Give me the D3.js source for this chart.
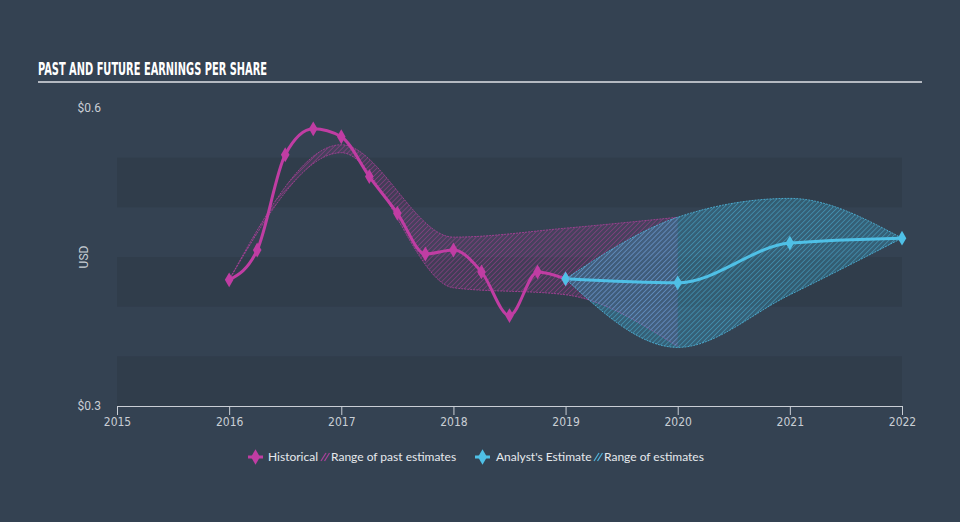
<!DOCTYPE html>
<html>
<head>
<meta charset="utf-8">
<script src="https://cdn.jsdelivr.net/npm/d3@7/dist/d3.min.js"></script>
<style>
  html, body { margin: 0; padding: 0; background: #344252; }
  svg { display: block; }
</style>
</head>
<body>
<svg id="chart" width="960" height="522"></svg>
<script>
// ---------------- DATA ----------------
const histDates  = [2016, 2016.25, 2016.5, 2016.75, 2017, 2017.25, 2017.5, 2017.75, 2018, 2018.25, 2018.5, 2018.75, 2019];
const histValues = [0.427, 0.457, 0.553, 0.579, 0.571, 0.531, 0.494, 0.453, 0.457, 0.435, 0.391, 0.435, 0.428];

const pastRangeYears = [2016, 2017, 2018, 2019, 2020];
const pastRangeHigh  = [0.427, 0.563, 0.470, 0.479, 0.490];
const pastRangeLow   = [0.427, 0.555, 0.419, 0.412, 0.360];

const estYears  = [2019, 2020, 2021, 2022];
const estValues = [0.428, 0.424, 0.464, 0.469];
const estHigh   = [0.428, 0.490, 0.509, 0.469];
const estLow    = [0.428, 0.359, 0.412, 0.469];

const xTickYears  = [2015, 2016, 2017, 2018, 2019, 2020, 2021, 2022];
const yTickValues = [0.3, 0.6];
const bandRanges  = [[0.3, 0.35], [0.4, 0.45], [0.5, 0.55]];

const titleText = "PAST AND FUTURE EARNINGS PER SHARE";
const legendItems = [
  {label: "Historical", kind: "line", color: "#c03da3"},
  {label: "Range of past estimates", kind: "hatch", color: "#a8409a"},
  {label: "Analyst's Estimate", kind: "line", color: "#4fc0e6"},
  {label: "Range of estimates", kind: "hatch", color: "#4fb0d8"}
];

// ---------------- SETUP ----------------
const svg = d3.select("#chart");
const W = 960, H = 522;
const C = {
  bg: "#344252", band: "#303d4b", text: "#c9ced5",
  hist: "#c03da3", est: "#4fc0e6"
};

const x = d3.scaleLinear().domain([2015, 2022]).range([117, 902]);
const y = d3.scaleLinear().domain([0.3, 0.6]).range([406, 108]);

svg.append("rect").attr("width", W).attr("height", H).attr("fill", C.bg);

const defs = svg.append("defs");
function hatch(id, bgColor, bgOpacity, lineColor, lineOpacity) {
  const p = defs.append("pattern").attr("id", id)
    .attr("patternUnits", "userSpaceOnUse").attr("width", 3.5).attr("height", 3.5)
    .attr("patternTransform", "rotate(45)");
  p.append("rect").attr("width", 3.5).attr("height", 3.5).attr("fill", bgColor).attr("fill-opacity", bgOpacity);
  p.append("line").attr("x1", 0).attr("y1", 0).attr("x2", 0).attr("y2", 3.5)
    .attr("stroke", lineColor).attr("stroke-width", 1.4).attr("stroke-opacity", lineOpacity);
}
hatch("hatchPast", "#8a3a86", 0.2, "#b8409f", 0.6);
hatch("hatchEst", "#3aa6cf", 0.30, "#4fbde4", 0.6);

// Bands
svg.append("g").selectAll("rect").data(bandRanges).join("rect")
  .attr("x", x(2015)).attr("width", x(2022) - x(2015))
  .attr("y", d => y(d[1])).attr("height", d => y(d[0]) - y(d[1]))
  .attr("fill", C.band);

// Title
svg.append("text").attr("x", 38).attr("y", 75)
  .attr("font-family", "'DejaVu Sans Condensed', 'DejaVu Sans', sans-serif")
  .attr("font-weight", "bold").attr("font-size", 17)
  .attr("textLength", 229).attr("lengthAdjust", "spacingAndGlyphs")
  .attr("fill", "#ffffff").text(titleText);
svg.append("rect").attr("x", 38).attr("y", 81).attr("width", 884).attr("height", 2).attr("fill", "#b4b9c1");

// Y labels
svg.append("g").selectAll("text").data(yTickValues).join("text")
  .attr("x", 101).attr("y", d => y(d)).attr("dy", "0.35em")
  .attr("text-anchor", "end").attr("font-family", "Roboto, sans-serif").attr("font-size", 12)
  .attr("fill", C.text).text(d => "$" + d.toFixed(1));
svg.append("text").attr("transform", `translate(88,${(y(0.3)+y(0.6))/2}) rotate(-90)`)
  .attr("text-anchor", "middle").attr("font-family", "Roboto, sans-serif").attr("font-size", 12)
  .attr("fill", C.text).text("USD");

// Areas
const areaGen = d3.area().curve(d3.curveMonotoneX)
  .x(d => x(d.t)).y0(d => y(d.lo)).y1(d => y(d.hi));
const lineHi = d3.line().curve(d3.curveMonotoneX).x(d => x(d.t)).y(d => y(d.hi));
const lineLo = d3.line().curve(d3.curveMonotoneX).x(d => x(d.t)).y(d => y(d.lo));

const pastData = pastRangeYears.map((t, i) => ({t, hi: pastRangeHigh[i], lo: pastRangeLow[i]}));
const estData  = estYears.map((t, i) => ({t, hi: estHigh[i], lo: estLow[i]}));

svg.append("path").datum(pastData).attr("d", areaGen).attr("fill", "url(#hatchPast)");
[lineHi, lineLo].forEach(g => svg.append("path").datum(pastData).attr("d", g)
  .attr("fill", "none").attr("stroke", "#b0409c").attr("stroke-width", 1).attr("stroke-dasharray", "2,1").attr("stroke-opacity", 0.8));

svg.append("path").datum(estData).attr("d", areaGen).attr("fill", "url(#hatchEst)");
[lineHi, lineLo].forEach(g => svg.append("path").datum(estData).attr("d", g)
  .attr("fill", "none").attr("stroke", "#4fbde4").attr("stroke-width", 1).attr("stroke-dasharray", "2,1").attr("stroke-opacity", 0.8));

// X axis
const xAxis = d3.axisBottom(x).tickValues(xTickYears).tickFormat(d3.format("d")).tickSize(9).tickPadding(2);
const gx = svg.append("g").attr("transform", `translate(0,${y(0.3)})`).call(xAxis);
gx.select(".domain").attr("stroke", "#c9ced5");
gx.selectAll(".tick line").attr("stroke", "#c9ced5");
gx.selectAll(".tick text").attr("fill", C.text).attr("font-family", "'DejaVu Sans Condensed', Roboto, sans-serif").attr("font-size", 12);

// Lines
const lineGen = d3.line().curve(d3.curveMonotoneX).x(d => x(d[0])).y(d => y(d[1]));
const histPts = histDates.map((t, i) => [t, histValues[i]]);
const estPts  = estYears.map((t, i) => [t, estValues[i]]);

svg.append("path").datum(histPts).attr("d", lineGen).attr("fill", "none")
  .attr("stroke", C.hist).attr("stroke-width", 3);
svg.append("path").datum(estPts).attr("d", lineGen).attr("fill", "none")
  .attr("stroke", C.est).attr("stroke-width", 3);

const diamond = d3.symbol().type(d3.symbolDiamond).size(64);
svg.append("g").selectAll("path").data(histPts).join("path")
  .attr("transform", d => `translate(${x(d[0])},${y(d[1])})`).attr("d", diamond).attr("fill", C.hist);
svg.append("g").selectAll("path").data(estPts).join("path")
  .attr("transform", d => `translate(${x(d[0])},${y(d[1])})`).attr("d", diamond).attr("fill", C.est);

// Legend
const legend = svg.append("g").attr("font-family", "Lato, 'Open Sans', sans-serif").attr("font-size", 12);
const legendX = [248, 321, 475, 594];
const legendTextX = [268, 331, 496, 604];
const ly = 457;
legendItems.forEach((it, i) => {
  const g = legend.append("g");
  if (it.kind === "line") {
    g.append("line").attr("x1", legendX[i]).attr("x2", legendX[i] + 15).attr("y1", ly).attr("y2", ly)
      .attr("stroke", it.color).attr("stroke-width", 3);
    g.append("path").attr("transform", `translate(${legendX[i] + 7.5},${ly})`)
      .attr("d", d3.symbol().type(d3.symbolDiamond).size(70)()).attr("fill", it.color);
  } else {
    [0, 3.5].forEach(o => g.append("line")
      .attr("x1", legendX[i] + o).attr("y1", ly + 4).attr("x2", legendX[i] + o + 5).attr("y2", ly - 4)
      .attr("stroke", it.color).attr("stroke-width", 1.3));
  }
  g.append("text").attr("x", legendTextX[i]).attr("y", ly).attr("dy", "0.35em")
    .attr("fill", "#e6e9ed").text(it.label);
});
</script>
</body>
</html>
